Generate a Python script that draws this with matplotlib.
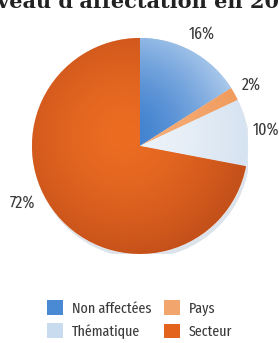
import matplotlib
matplotlib.use("Agg")
import matplotlib.pyplot as plt
from matplotlib.patches import Patch, Circle
from matplotlib.colors import to_rgb
import numpy as np

# données
labels = ["Non affectées", "Pays", "Thématique", "Secteur"]
values = [16, 2, 10, 72]
pct_labels = ["16%", "2%", "10%", "72%"]
colors = ["#4a8ad4", "#f3a56e", "#c9dbef", "#e4631c"]
# dégradé (centre -> bord) pour chaque part
inner = ["#3f80cf", "#f6ae78", "#eef3f9", "#ec6c22"]
outer = ["#b5d0ee", "#f09a5c", "#d6e3f1", "#c4501a"]
legend_order = [0, 2, 1, 3]

narrow = ["Fira Sans Extra Condensed", "Sofia Sans Extra Condensed", "PT Sans Narrow", "DejaVu Sans"]

fig = plt.figure(figsize=(2.79, 3.43), dpi=100)
fig.patch.set_facecolor("white")

# titre coupé en haut
fig.text(0.5, 1.0 - 8 / 343, "Niveau d'affectation en 2008", ha="center", va="baseline",
         fontsize=15, fontweight="bold", family="DejaVu Serif", color="#222222")

ax = fig.add_axes([0.1147, 0.2595, 0.774, 0.63])
ax.add_patch(Circle((0.02, -0.04), 1.0, facecolor="#dde3ea", edgecolor="none", zorder=0))
wedges, texts = ax.pie(values, colors=colors, startangle=90, counterclock=False,
                       labels=pct_labels, labeldistance=1.18,
                       wedgeprops=dict(linewidth=0.4, edgecolor="#f4f4f4"),
                       textprops=dict(fontsize=12.5, family=narrow, color="#3a3a3a"))

# dégradé radial dans chaque part
yy, xx = np.mgrid[1:-1:300j, -1:1:300j]
rr = np.clip(np.hypot(xx + 0.15, yy - 0.1) / 1.15, 0, 1) ** 1.6
for w, ci, co in zip(wedges, inner, outer):
    a, b = np.array(to_rgb(ci)), np.array(to_rgb(co))
    img = a[None, None, :] * (1 - rr[..., None]) + b[None, None, :] * rr[..., None]
    im = ax.imshow(img, extent=[-1, 1, -1, 1], zorder=w.get_zorder() + 0.1, interpolation="bilinear")
    im.set_clip_path(w)

# position du label 72% (à gauche, un peu plus bas que le milieu de la part)
ang = np.deg2rad(-154)
texts[3].set_position((1.21 * np.cos(ang), 1.21 * np.sin(ang)))
for t in texts:
    t.set_ha("center")
    t.set_va("center")

ax.set_xlim(-1, 1)
ax.set_ylim(-1, 1)
ax.set_aspect("equal")
ax.axis("off")

handles = [Patch(facecolor=colors[i], edgecolor="none") for i in legend_order]
fig.legend(handles, [labels[i] for i in legend_order], ncol=2, loc="lower center",
           bbox_to_anchor=(0.5, -0.028), frameon=False, handlelength=1.05, handleheight=1.05,
           columnspacing=0.8, handletextpad=0.6, labelspacing=0.5,
           prop=dict(family=narrow, size=11))
for t in fig.legends[0].get_texts():
    t.set_color("#3a3a3a")

fig.savefig("out.png", dpi=100)
